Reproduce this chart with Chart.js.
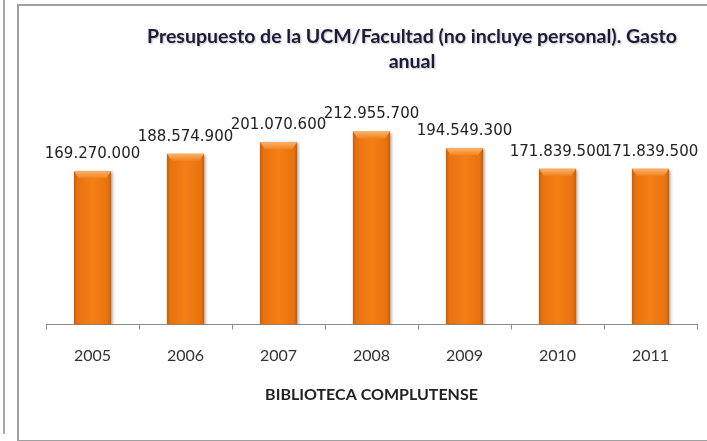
<!DOCTYPE html>
<html lang="es">
<head>
    <meta charset="UTF-8">
    <title>Presupuesto de la UCM/Facultad</title>
    <script src="https://cdn.jsdelivr.net/npm/chart.js"></script>
    <style>
        body {
            margin: 0;
            width: 707px;
            height: 441px;
            overflow: hidden;
            background: #fff;
            position: relative;
        }
        /* thin line on the far left and the chart frame */
        #leftLine {
            position: absolute;
            left: 3px;
            top: 0;
            width: 2px;
            height: 434px;
            background: #a8a8a8;
        }
        #frame {
            position: absolute;
            left: 17px;
            top: 4px;
            width: 720px;
            height: 434px;
            border: 2px solid #a0a0a0;
        }
        #budgetChart {
            position: absolute;
            left: 0;
            top: 0;
        }
    </style>
</head>
<body>

<div id="leftLine"></div>
<div id="frame"></div>
<canvas id="budgetChart" width="707" height="441"></canvas>

<script>
    // data
    const years = ['2005', '2006', '2007', '2008', '2009', '2010', '2011'];
    const budget = [169270000, 188574900, 201070600, 212955700, 194549300, 171839500, 171839500];
    const titleLines = ['Presupuesto de la UCM/Facultad (no incluye personal). Gasto', 'anual'];
    const axisTitle = 'BIBLIOTECA COMPLUTENSE';

    // 169270000 -> 169.270.000
    function formatNum(n) {
        return String(n).replace(/\B(?=(\d{3})+(?!\d))/g, '.');
    }

    // horizontal gradient so the bars look a bit rounded
    function barFill(context) {
        const chart = context.chart;
        if (!chart.chartArea) return '#ef7812';
        const x = chart.scales.x.getPixelForValue(context.dataIndex);
        const w = 19;
        const g = chart.ctx.createLinearGradient(x - w, 0, x + w, 0);
        g.addColorStop(0, '#c65a08');
        g.addColorStop(0.1, '#e8720e');
        g.addColorStop(0.5, '#f47f15');
        g.addColorStop(0.9, '#e8720e');
        g.addColorStop(1, '#c65a08');
        return g;
    }

    // title drawn by hand, it sits right of the plot centre in the original
    const titlePlugin = {
        id: 'titleText',
        afterDraw(chart) {
            const ctx = chart.ctx;
            ctx.save();
            ctx.font = 'bold 19.5px Lato';
            ctx.fillStyle = '#1b1b3a';
            ctx.textAlign = 'center';
            ctx.textBaseline = 'alphabetic';
            ctx.shadowColor = 'rgba(0,0,0,0.25)';
            ctx.shadowBlur = 2;
            ctx.shadowOffsetX = 1;
            ctx.shadowOffsetY = 1;
            ctx.fillText(titleLines[0], 412, 43);
            ctx.fillText(titleLines[1], 412, 68);
            ctx.restore();
        }
    };

    // shadow behind the bars
    const barShadow = {
        id: 'barShadow',
        beforeDatasetDraw(chart) {
            const ctx = chart.ctx;
            ctx.save();
            ctx.shadowColor = 'rgba(0,0,0,0.35)';
            ctx.shadowBlur = 3;
            ctx.shadowOffsetX = 2;
            ctx.shadowOffsetY = 1;
        },
        afterDatasetDraw(chart) {
            chart.ctx.restore();
        }
    };

    // light bevel on top of each bar + the value labels
    const barExtras = {
        id: 'barExtras',
        afterDatasetsDraw(chart) {
            const ctx = chart.ctx;
            const meta = chart.getDatasetMeta(0);
            ctx.save();
            meta.data.forEach(function (bar, i) {
                const l = bar.x - bar.width / 2;
                const r = bar.x + bar.width / 2;
                const t = bar.y;
                const g = ctx.createLinearGradient(0, t, 0, t + 7);
                g.addColorStop(0, '#fbb26a');
                g.addColorStop(1, '#f2831f');
                ctx.fillStyle = g;
                ctx.beginPath();
                ctx.moveTo(l, t);
                ctx.lineTo(r, t);
                ctx.lineTo(r - 5, t + 7);
                ctx.lineTo(l + 5, t + 7);
                ctx.closePath();
                ctx.fill();

                ctx.fillStyle = '#222';
                ctx.font = '15px "DejaVu Sans"';
                ctx.textAlign = 'center';
                ctx.textBaseline = 'middle';
                ctx.fillText(formatNum(budget[i]), bar.x, t - 17);
            });
            ctx.restore();
        }
    };

    const ctx = document.getElementById('budgetChart').getContext('2d');
    const budgetChart = new Chart(ctx, {
        type: 'bar',
        data: {
            labels: years,
            datasets: [{
                data: budget,
                backgroundColor: barFill,
                borderWidth: 0,
                barPercentage: 0.4,
                categoryPercentage: 1
            }]
        },
        options: {
            responsive: false,
            animation: false,
            layout: {
                padding: { left: 46, right: 10, top: 98, bottom: 37 }
            },
            plugins: {
                legend: { display: false },
                tooltip: { enabled: false },
                title: { display: false }
            },
            scales: {
                x: {
                    grid: {
                        display: true,
                        drawOnChartArea: false,
                        drawTicks: true,
                        tickLength: 5,
                        color: '#8c8c8c'
                    },
                    border: { color: '#8c8c8c', width: 1 },
                    ticks: {
                        color: '#333',
                        font: { family: 'Lato', size: 16 },
                        padding: 17
                    },
                    title: {
                        display: true,
                        text: axisTitle,
                        color: '#222',
                        font: { family: 'Lato', size: 16, weight: 'bold' },
                        padding: { top: 2, bottom: 0 }
                    }
                },
                y: {
                    display: false,
                    min: 0,
                    max: 250000000
                }
            }
        },
        plugins: [titlePlugin, barShadow, barExtras]
    });
</script>

</body>
</html>
